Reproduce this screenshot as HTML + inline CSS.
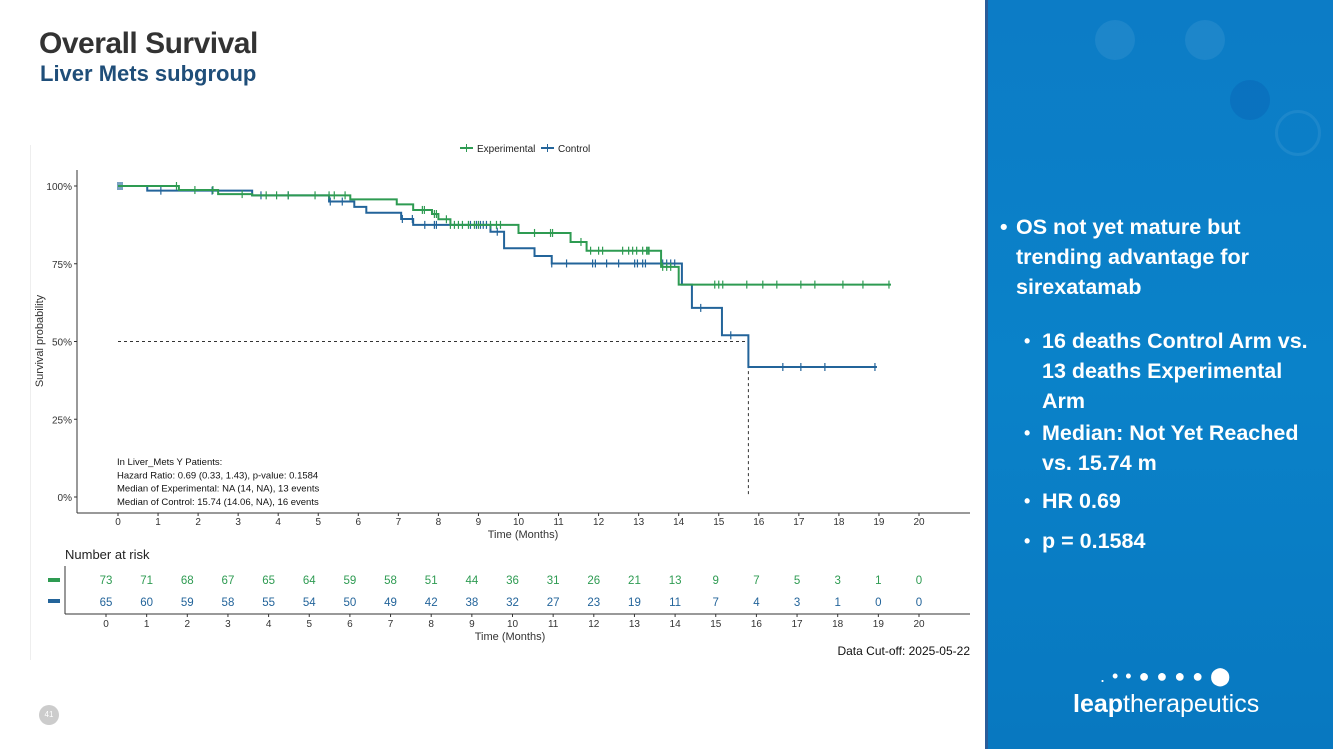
<!DOCTYPE html>
<html><head><meta charset="utf-8">
<style>
body{margin:0;width:1333px;height:749px;overflow:hidden;background:#fff;font-family:"Liberation Sans",sans-serif;position:relative}
.t{position:absolute;white-space:nowrap}
.b{position:absolute;white-space:nowrap;color:#fff;font-weight:bold;font-size:21.5px;line-height:30px}
</style></head><body>
<div class="t" style="left:39px;top:27px;font-size:30px;font-weight:bold;color:#333;letter-spacing:-0.5px">Overall Survival</div>
<div class="t" style="left:40px;top:61px;font-size:22px;font-weight:bold;color:#1f4e79">Liver Mets subgroup</div>
<div style="position:absolute;left:30px;top:145px;width:1px;height:515px;background:#eee"></div>
<svg id="c" width="985" height="749" style="position:absolute;left:0;top:0" font-family="Liberation Sans, sans-serif"></svg>
<div style="position:absolute;left:985px;top:0;width:348px;height:749px;background:linear-gradient(180deg,#0c7cc6,#0a82c9 50%,#0878c0);overflow:hidden">
<div style="position:absolute;left:0;top:0;width:3px;height:749px;background:#2a5d9a"></div>
<div style="position:absolute;left:110px;top:20px;width:40px;height:40px;border-radius:50%;background:rgba(255,255,255,.07)"></div>
<div style="position:absolute;left:200px;top:20px;width:40px;height:40px;border-radius:50%;background:rgba(255,255,255,.07)"></div>
<div style="position:absolute;left:245px;top:80px;width:40px;height:40px;border-radius:50%;background:rgba(0,50,150,.15)"></div>
<div style="position:absolute;left:290px;top:110px;width:40px;height:40px;border-radius:50%;border:3px solid rgba(255,255,255,.07)"></div>
</div>
<div class="b" style="left:1000px;top:212px">•</div>
<div class="b" style="left:1016px;top:212px">OS not yet mature but<br>trending advantage for<br>sirexatamab</div>
<div class="b" style="left:1024px;top:326px;font-size:18px">•</div>
<div class="b" style="left:1042px;top:326px">16 deaths Control Arm vs.<br>13 deaths Experimental<br>Arm</div>
<div class="b" style="left:1024px;top:418px;font-size:18px">•</div>
<div class="b" style="left:1042px;top:418px">Median: Not Yet Reached<br>vs. 15.74 m</div>
<div class="b" style="left:1024px;top:486px;font-size:18px">•</div>
<div class="b" style="left:1042px;top:486px">HR 0.69</div>
<div class="b" style="left:1024px;top:526px;font-size:18px">•</div>
<div class="b" style="left:1042px;top:526px">p = 0.1584</div>
<div class="t" style="left:1100px;top:666px;color:#fff;font-size:18px;letter-spacing:1px">. • • ● ● ● ● ⬤</div>
<div class="t" style="left:1073px;top:690px;color:#fff;font-size:25px"><b>leap</b>therapeutics</div>
<div style="position:absolute;left:39px;top:705px;width:20px;height:20px;border-radius:50%;background:#ccc;color:#fff;font-size:8px;text-align:center;line-height:20px">41</div>
<script>
const months=[0,1,2,3,4,5,6,7,8,9,10,11,12,13,14,15,16,17,18,19,20];
const yTicks=[0,25,50,75,100];
const expTimes=[0,1.52,2.5,3.35,5.8,6.96,7.37,7.84,8.0,8.3,10.0,11.3,11.7,13.56,14.0,19.3];
const expSurv=[100,98.7,97.4,97.0,95.7,94.1,92.3,91.0,89.3,87.5,84.9,82.0,79.2,74.0,68.3,68.3];
const ctlTimes=[0,0.73,3.35,5.27,5.9,6.2,7.07,7.37,9.3,9.64,10.4,10.83,14.08,14.33,15.08,15.74,18.95];
const ctlSurv=[100,98.5,97.0,95.0,93.3,91.4,89.4,87.5,85.3,80.0,77.5,75.1,68.3,60.8,52.0,41.8,41.8];
const expCens=[1.46,1.92,2.37,3.1,3.7,3.96,4.25,4.92,5.27,5.4,5.67,7.6,7.65,7.9,7.95,8.2,8.3,8.4,8.5,8.6,8.75,8.9,9.0,9.3,9.45,9.55,10.4,10.8,10.85,11.56,11.8,12.0,12.1,12.6,12.75,12.85,12.95,13.1,13.2,13.23,13.26,13.6,13.7,13.8,14.9,15.0,15.1,15.7,16.1,16.45,17.05,17.4,18.1,18.6,19.25];
const ctlCens=[0,0.05,0.1,1.07,2.35,3.57,4.25,5.3,5.6,7.1,7.35,7.66,7.9,7.95,8.8,8.95,9.05,9.12,9.2,9.47,10.83,11.2,11.85,11.92,12.2,12.5,12.9,12.97,13.1,13.17,13.6,13.7,13.8,13.9,14.55,15.3,16.6,17.05,17.65,18.9];
const riskExp=[73,71,68,67,65,64,59,58,51,44,36,31,26,21,13,9,7,5,3,1,0];
const riskCtl=[65,60,59,58,55,54,50,49,42,38,32,27,23,19,11,7,4,3,1,0,0];
const G='#2e9b52',B='#23649a';
const X=t=>118+t*40.05, Y=s=>497-s*3.11, RX=t=>106+t*40.65;
const svg=document.getElementById('c');const NS='http://www.w3.org/2000/svg';
function mk(tag,a,txt){const e=document.createElementNS(NS,tag);for(const k in a)e.setAttribute(k,a[k]);if(txt!==undefined)e.textContent=txt;svg.appendChild(e);return e;}
let e;
e=mk('line',{x1:77,y1:170,x2:77,y2:513,stroke:'#333','stroke-width':1});


e=mk('line',{x1:77,y1:513,x2:970,y2:513,stroke:'#333','stroke-width':1});


yTicks.forEach(v=>{mk('line',{x1:74,y1:Y(v),x2:77,y2:Y(v),stroke:'#333'});
e=mk('text',{x:72,y:Y(v)+4,'font-size':10,'text-anchor':'end',fill:'#333'},v+'%');

});
months.forEach(m=>{mk('line',{x1:X(m),y1:513,x2:X(m),y2:516,stroke:'#333'});
e=mk('text',{x:X(m),y:525,'font-size':10,'text-anchor':'middle',fill:'#333'},m);

});
e=mk('text',{x:523,y:538,'font-size':11,'text-anchor':'middle',fill:'#333'},'Time (Months)');


e=mk('text',{x:43,y:341,'font-size':11,'text-anchor':'middle',fill:'#333',transform:'rotate(-90 43 341)'},'Survival probability');


e=mk('path',{d:`M${X(0)},${Y(50)}H${X(15.74)}V${Y(0)}`,stroke:'#333','stroke-dasharray':'3,3',fill:'none'});


function survAt(ts,ss,t){let s=ss[0];for(let i=0;i<ts.length;i++)if(ts[i]<=t)s=ss[i];return s;}
function curve(ts,ss,cens,col,name){let d=`M${X(ts[0])},${Y(ss[0])}`;for(let i=1;i<ts.length;i++){d+=`H${X(ts[i])}V${Y(ss[i])}`;}
e=mk('path',{d:d,stroke:col,'stroke-width':2,fill:'none'});


cens.forEach(t=>{const y=Y(survAt(ts,ss,t));e=mk('line',{x1:X(t),y1:y-4,x2:X(t),y2:y+4,stroke:col,'stroke-width':1.2});

});}
curve(ctlTimes,ctlSurv,ctlCens,B,'control');
curve(expTimes,expSurv,expCens,G,'experimental');
[[460,G,'Experimental'],[541,B,'Control']].forEach(([x,c,l],i)=>{mk('line',{x1:x,y1:148,x2:x+13,y2:148,stroke:c,'stroke-width':2});mk('line',{x1:x+6.5,y1:144,x2:x+6.5,y2:152,stroke:c});
e=mk('text',{x:x+17,y:152,'font-size':10,fill:'#222'},l);

});
['In Liver_Mets Y Patients:','Hazard Ratio: 0.69 (0.33, 1.43), p-value: 0.1584','Median of Experimental: NA (14, NA), 13 events','Median of Control: 15.74 (14.06, NA), 16 events'].forEach((s,i)=>{
e=mk('text',{x:117,y:465+i*13.3,'font-size':9.5,fill:'#111'},s);

});
e=mk('text',{x:65,y:559,'font-size':13,fill:'#222'},'Number at risk');


mk('line',{x1:65,y1:566,x2:65,y2:614,stroke:'#333'});
mk('line',{x1:65,y1:614,x2:970,y2:614,stroke:'#333'});
mk('line',{x1:48,y1:580,x2:60,y2:580,stroke:G,'stroke-width':4});
mk('line',{x1:48,y1:601,x2:60,y2:601,stroke:B,'stroke-width':4});
months.forEach((m,i)=>{
e=mk('text',{x:RX(m),y:584,'font-size':11.5,'text-anchor':'middle',fill:G},riskExp[i]);


e=mk('text',{x:RX(m),y:606,'font-size':11.5,'text-anchor':'middle',fill:B},riskCtl[i]);


mk('line',{x1:RX(m),y1:614,x2:RX(m),y2:617,stroke:'#333'});
e=mk('text',{x:RX(m),y:627,'font-size':10,'text-anchor':'middle',fill:'#333'},m);

});
e=mk('text',{x:510,y:640,'font-size':11,'text-anchor':'middle',fill:'#333'},'Time (Months)');


e=mk('text',{x:970,y:655,'font-size':12,'text-anchor':'end',fill:'#111'},'Data Cut-off: 2025-05-22');


</script>
</body></html>
